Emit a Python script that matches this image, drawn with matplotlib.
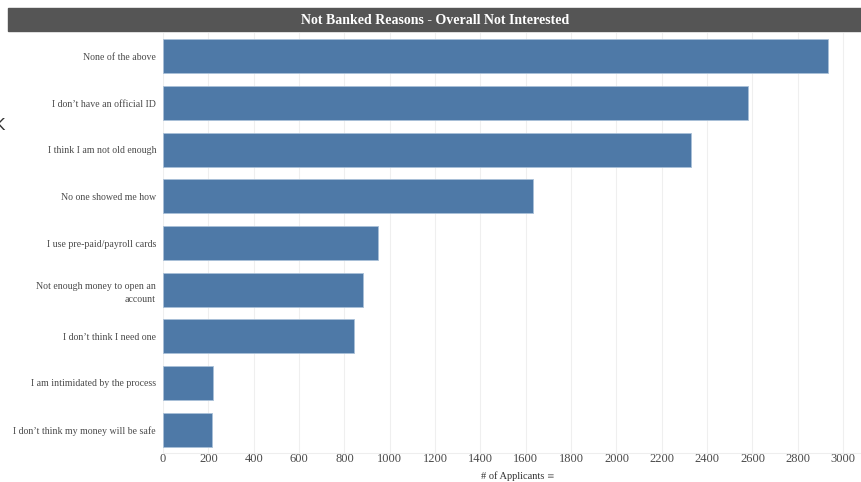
import matplotlib.pyplot as plt
from matplotlib.patches import Rectangle

# --- DATA ---
reasons = [
    "None of the above",
    "I don\u2019t have an official ID",
    "I think I am not old enough",
    "No one showed me how",
    "I use pre-paid/payroll cards",
    "Not enough money to open an\naccount",
    "I don\u2019t think I need one",
    "I am intimidated by the process",
    "I don\u2019t think my money will be safe",
]
applicants = [2935, 2580, 2330, 1632, 948, 882, 842, 222, 218]
x_ticks = list(range(0, 3001, 200))

# --- STYLE ---
BAR_COLOR = "#4e79a7"
TEXT_COLOR = "#4a4a4a"
plt.rcParams['font.family'] = ['Liberation Serif', 'DejaVu Serif']

W, H = 862, 482
fig = plt.figure(figsize=(W / 100, H / 100), dpi=100)

# title bar
fig.patches.append(Rectangle((8 / W, 1 - 31 / H), 1 - 8 / W, 23 / H,
                             transform=fig.transFigure, color="#555555", zorder=0))
fig.text(435 / W, 1 - 20 / H, "Not Banked Reasons - Overall Not Interested",
         color="white", fontsize=10, fontweight="bold", ha="center", va="center")

# cut off arrow at left edge
fig.text(0, 1 - 125 / H, "K", fontsize=11, color="#333333", ha="center", va="center",
         family="DejaVu Sans")

ax = fig.add_axes([163 / W, 1 - 453 / H, (862 - 163) / W, (453 - 33) / H])
y = range(len(reasons))
ax.barh(y, applicants, height=0.73, color=BAR_COLOR, edgecolor="#a9c0d8",
        linewidth=0.6, zorder=2)

ax.set_ylim(len(reasons) - 0.5, -0.5)
ax.set_xlim(0, 3083)
ax.set_xticks(x_ticks)
ax.set_xticklabels([str(t) for t in x_ticks], fontsize=9)
ax.set_yticks(list(y))
ax.set_yticklabels(reasons, ha="right", multialignment="right", fontsize=7.1,
                   linespacing=1.6)

ax.tick_params(axis="both", length=0, colors=TEXT_COLOR)
ax.tick_params(axis="y", pad=5)
ax.tick_params(axis="x", pad=0)
ax.grid(axis="x", color="#efefef", linewidth=0.8, zorder=0)
for s in ["top", "right", "left"]:
    ax.spines[s].set_visible(False)
ax.spines["bottom"].set_color("#eeeeee")

fig.text(513 / W, 1 - 476 / H, "# of Applicants", color="#333333", fontsize=7.5,
         ha="center", va="center")
fig.text(550 / W, 1 - 476 / H, "\u2261", color="#777777", fontsize=6.5,
         ha="center", va="center", family="DejaVu Sans")

fig.savefig("out.png", dpi=100)
